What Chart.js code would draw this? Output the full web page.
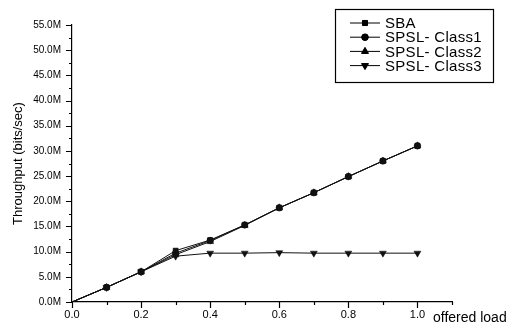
<!DOCTYPE html>
<html>
<head>
<meta charset="utf-8">
<script src="https://cdn.jsdelivr.net/npm/chart.js@4.4.1/dist/chart.umd.min.js"></script>
<style>
  html, body { margin: 0; padding: 0; background: #fff; }
  #wrap { width: 510px; height: 325px; }
</style>
</head>
<body>
<div id="wrap"><canvas id="grafico"></canvas></div>
<script>
// carga ofrecida (eje x)
const offeredLoad = [0.0, 0.1, 0.2, 0.3, 0.4, 0.5, 0.6, 0.7, 0.8, 0.9, 1.0];

// throughput en Mbits/sec
const sba    = [0, 2.9, 6.0, 10.2, 12.3, 15.3, 18.7, 21.7, 24.9, 28.0, 31.0];
const class1 = [0, 2.9, 6.0, 9.7, 12.2, 15.3, 18.7, 21.7, 24.9, 28.0, 31.0];
const class2 = [0, 2.9, 6.0, 9.4, 12.0, 15.2, 18.7, 21.7, 24.9, 28.0, 31.0];
const class3 = [0, 2.9, 6.0, 9.1, 9.7, 9.7, 9.8, 9.7, 9.7, 9.7, 9.7];

const seriesNames = ['SBA', 'SPSL- Class1', 'SPSL- Class2', 'SPSL- Class3'];
const seriesValues = [sba, class1, class2, class3];
const markers = [
    { style: 'rect', rotation: 0, radius: 3.6 },
    { style: 'circle', rotation: 0, radius: 3.3 },
    { style: 'triangle', rotation: 0, radius: 4 },
    { style: 'triangle', rotation: 180, radius: 4 }
];

const FONT = '"Liberation Sans", Arial, Helvetica, sans-serif';

function toPoints(values) {
    return offeredLoad.map((x, i) => ({ x: x, y: values[i] * 1e6 }));
}

const datasets = seriesValues.map((values, i) => ({
    label: seriesNames[i],
    data: toPoints(values),
    borderColor: '#111',
    backgroundColor: '#111',
    borderWidth: 1,
    pointStyle: markers[i].style,
    rotation: markers[i].rotation,
    pointRadius: ctx => ctx.dataIndex === 0 ? 0 : markers[i].radius,
    pointBackgroundColor: '#111',
    pointBorderColor: '#111',
    pointBorderWidth: 0.5,
    tension: 0
}));

// marcas de los ejes (mayores y menores)
const tickMarks = {
    id: 'tickMarks',
    afterDraw(chart) {
        const c = chart.ctx;
        const xs = chart.scales.x;
        const ys = chart.scales.y;
        c.save();
        c.strokeStyle = '#000';
        c.lineWidth = 1.2;
        c.beginPath();
        xs.ticks.forEach(t => {
            const px = Math.round(xs.getPixelForValue(t.value)) + 0.5;
            const major = Math.round(t.value * 10) % 2 === 0;
            c.moveTo(px, xs.top);
            c.lineTo(px, xs.top + (major ? 6 : 3));
        });
        ys.ticks.forEach(t => {
            const py = Math.round(ys.getPixelForValue(t.value)) + 0.5;
            const major = Math.round(t.value / 2.5e6) % 2 === 0;
            c.moveTo(ys.right, py);
            c.lineTo(ys.right - (major ? 6 : 3), py);
        });
        c.stroke();

        // etiqueta del eje x a la derecha
        c.fillStyle = '#000';
        c.font = '14px ' + FONT;
        c.textAlign = 'left';
        c.textBaseline = 'middle';
        c.fillText('offered load', 433, 318);
        c.restore();
    }
};

// leyenda con caja
const boxLegend = {
    id: 'boxLegend',
    afterDraw(chart) {
        const c = chart.ctx;
        c.save();
        c.strokeStyle = '#000';
        c.lineWidth = 1.2;
        c.strokeRect(335.5, 9.5, 158, 73);
        c.font = '15px ' + FONT;
        c.letterSpacing = '0.3px';
        c.textAlign = 'left';
        c.textBaseline = 'middle';
        c.fillStyle = '#000';
        seriesNames.forEach((name, i) => {
            const y = 23 + i * 14.2;
            c.lineWidth = 1;
            c.beginPath();
            c.moveTo(350, y);
            c.lineTo(380, y);
            c.stroke();
            Chart.helpers.drawPoint(c, {
                pointStyle: markers[i].style,
                rotation: markers[i].rotation,
                radius: markers[i].radius,
                borderWidth: 0.5
            }, 365, y);
            c.fill();
            c.fillText(name, 385, y + 1);
        });
        c.restore();
    }
};

const ctx = document.getElementById('grafico').getContext('2d');
const chart = new Chart(ctx, {
    type: 'line',
    data: { datasets: datasets },
    options: {
        responsive: true,
        maintainAspectRatio: false,
        animation: false,
        layout: { padding: { top: 25, right: 58, left: 0, bottom: 0 } },
        plugins: {
            legend: { display: false },
            tooltip: { enabled: false }
        },
        scales: {
            x: {
                type: 'linear',
                min: 0,
                max: 1.1,
                grid: { display: false, drawTicks: false },
                border: { display: true, color: '#000', width: 1.2 },
                afterFit: scale => { scale.height = 23; },
                ticks: {
                    stepSize: 0.1,
                    autoSkip: false,
                    maxRotation: 0,
                    padding: 6,
                    color: '#000',
                    font: { family: FONT, size: 11 },
                    callback: v => (Math.round(v * 10) % 2 === 0 && v < 1.05) ? v.toFixed(1) : ''
                }
            },
            y: {
                min: 0,
                max: 55e6,
                grid: { display: false, drawTicks: false },
                border: { display: true, color: '#000', width: 1.2 },
                afterFit: scale => { scale.width = 72; },
                title: {
                    display: true,
                    text: 'Throughput (bits/sec)',
                    color: '#000',
                    font: { family: FONT, size: 13 },
                    padding: { top: 11, bottom: 0 }
                },
                ticks: {
                    stepSize: 2.5e6,
                    autoSkip: false,
                    padding: 11,
                    color: '#000',
                    font: { family: FONT, size: 10 },
                    callback: v => Math.round(v / 2.5e6) % 2 === 0 ? (v / 1e6).toFixed(1) + 'M' : ''
                }
            }
        }
    },
    plugins: [tickMarks, boxLegend]
});
</script>
</body>
</html>
